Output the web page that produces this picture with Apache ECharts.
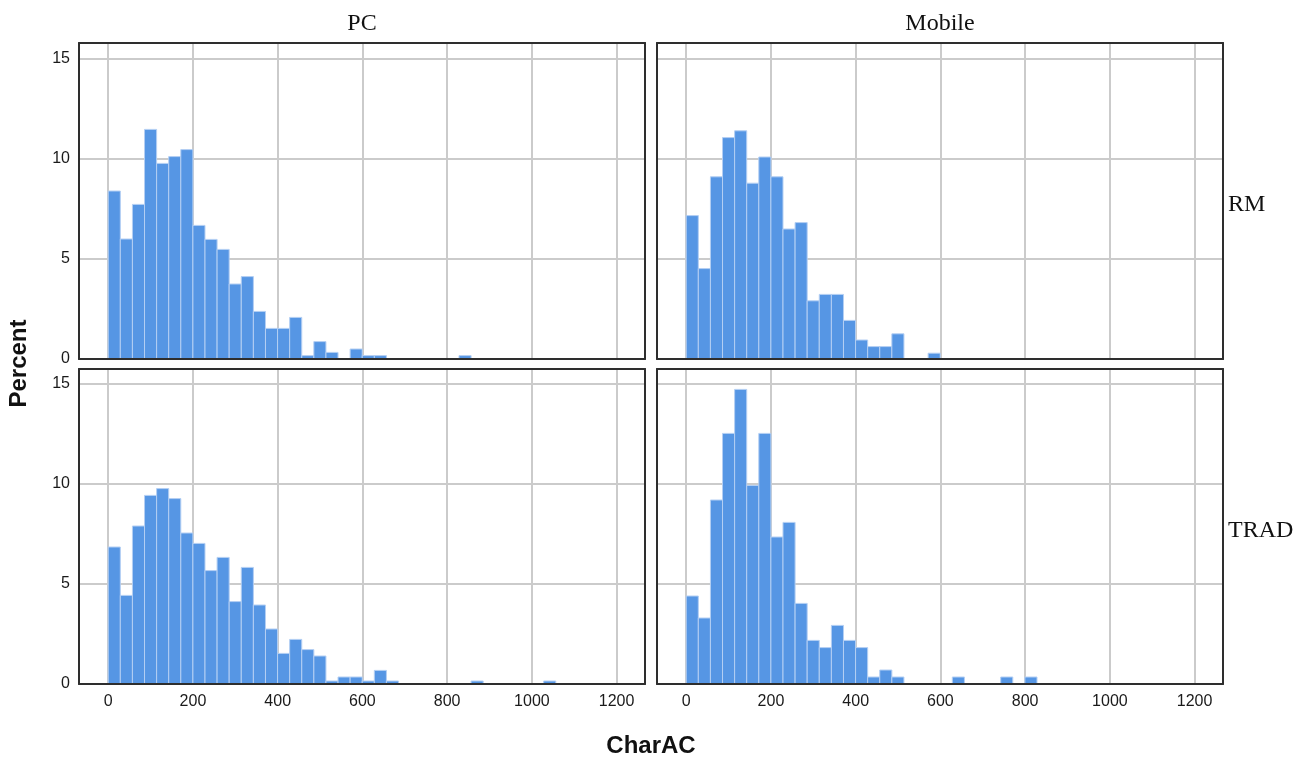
<!DOCTYPE html>
<html>
<head>
<meta charset="utf-8">
<script src="https://cdn.jsdelivr.net/npm/echarts@6/dist/echarts.min.js"></script>
<style>
  html, body { margin: 0; padding: 0; background: #ffffff; }
  #chart { width: 1300px; height: 757px; }
</style>
</head>
<body>
<div id="chart"></div>
<script>
// Histogram bins start at 0 and are BIN_WIDTH characters wide.
const BIN_WIDTH = 28.55;

// Facet labels
const columnLabels = ['PC', 'Mobile'];
const rowLabels = ['RM', 'TRAD'];
const xAxisTitle = 'CharAC';
const yAxisTitle = 'Percent';

// Percent of cases per bin
const pcRM = [8.4, 6.0, 7.73, 11.48, 9.78, 10.12, 10.47, 6.68, 5.98, 5.48,
  3.75, 4.12, 2.38, 1.53, 1.53, 2.08, 0.17, 0.87, 0.33, 0,
  0.5, 0.17, 0.17, 0, 0, 0, 0, 0, 0, 0.17];
const mobileRM = [7.17, 4.52, 9.11, 11.07, 11.41, 8.79, 10.1, 9.11, 6.5, 6.82,
  2.91, 3.23, 3.23, 1.93, 0.95, 0.62, 0.62, 1.26, 0, 0,
  0.29];
const pcTRAD = [6.85, 4.43, 7.9, 9.43, 9.77, 9.27, 7.55, 7.03, 5.67, 6.33,
  4.12, 5.83, 3.95, 2.75, 1.53, 2.23, 1.72, 1.4, 0.15, 0.35,
  0.35, 0.15, 0.68, 0.15, 0, 0, 0, 0, 0, 0,
  0.15, 0, 0, 0, 0, 0, 0.15];
const mobileTRAD = [4.4, 3.3, 9.2, 12.53, 14.73, 9.93, 12.53, 7.35, 8.08, 4.03,
  2.18, 1.82, 2.93, 2.18, 1.82, 0.35, 0.7, 0.35, 0, 0,
  0, 0, 0.35, 0, 0, 0, 0.35, 0, 0.35];

// Axis ranges and tick steps
const xRange = [-69, 1267];
const xTickStep = 200;
const yRanges = [[0, 15.8], [0, 15.75]];
const yTickStep = 5;

const panelValues = [[pcRM, mobileRM], [pcTRAD, mobileTRAD]];

// Panel layout (pixels)
const COL_LEFT = [79, 657];
const PANEL_W = 566;
const ROW_TOP = [43, 369];
const ROW_H = [316, 315];

const BAR_FILL = '#5696e4';
const BAR_EDGE = '#b4cff3';
const GRID_LINE = '#cbcbcb';
const FRAME = '#2e2e2e';
const LABEL_FONT = '"Liberation Sans", Arial, sans-serif';
const FACET_FONT = '"Liberation Serif", "Times New Roman", serif';

const grids = [], xAxes = [], yAxes = [], series = [];

function frameAxis(gridIndex, position, range) {
  return {
    type: 'value', gridIndex, position, z: 10,
    min: range[0], max: range[1],
    axisLine: { show: true, onZero: false, lineStyle: { color: FRAME, width: 2 } },
    axisTick: { show: false }, axisLabel: { show: false }, splitLine: { show: false }
  };
}

function renderBar(params, api) {
  const v = api.value(2);
  if (!v) return null;
  const topLeft = api.coord([api.value(0), v]);
  const bottomRight = api.coord([api.value(1), 0]);
  return {
    type: 'rect',
    shape: {
      x: topLeft[0], y: topLeft[1],
      width: bottomRight[0] - topLeft[0],
      height: bottomRight[1] - topLeft[1]
    },
    style: { fill: BAR_FILL, stroke: BAR_EDGE, lineWidth: 1 }
  };
}

const plainNumber = (v) => String(v);

for (let r = 0; r < 2; r++) {
  for (let c = 0; c < 2; c++) {
    const g = grids.length;
    grids.push({ left: COL_LEFT[c], top: ROW_TOP[r], width: PANEL_W, height: ROW_H[r], containLabel: false });

    const xIndex = xAxes.length;
    xAxes.push({
      type: 'value', gridIndex: g, position: 'bottom',
      min: xRange[0], max: xRange[1],
      splitNumber: 7, minInterval: xTickStep, maxInterval: xTickStep,
      axisLine: { show: false }, axisTick: { show: false },
      axisLabel: {
        show: r === 1, margin: 10, fontSize: 16, fontFamily: LABEL_FONT, color: '#1a1a1a',
        showMinLabel: false, showMaxLabel: false, formatter: plainNumber
      },
      splitLine: { show: true, lineStyle: { color: GRID_LINE, width: 2 } }
    });
    xAxes.push(frameAxis(g, 'top', xRange));
    xAxes.push(frameAxis(g, 'bottom', xRange));

    const yIndex = yAxes.length;
    yAxes.push({
      type: 'value', gridIndex: g, position: 'left',
      min: yRanges[r][0], max: yRanges[r][1], interval: yTickStep,
      axisLine: { show: false }, axisTick: { show: false },
      axisLabel: {
        show: c === 0, margin: 9, fontSize: 16, fontFamily: LABEL_FONT, color: '#1a1a1a',
        showMaxLabel: false, formatter: plainNumber
      },
      splitLine: { show: true, lineStyle: { color: GRID_LINE, width: 2 } }
    });
    yAxes.push(frameAxis(g, 'left', yRanges[r]));
    yAxes.push(frameAxis(g, 'right', yRanges[r]));

    const values = panelValues[r][c];
    series.push({
      type: 'custom',
      name: columnLabels[c] + ' ' + rowLabels[r],
      coordinateSystem: 'cartesian2d',
      xAxisIndex: xIndex, yAxisIndex: yIndex,
      renderItem: renderBar,
      encode: { x: [0, 1], y: 2 },
      clip: true,
      z: 3,
      data: values.map((v, i) => [i * BIN_WIDTH, (i + 1) * BIN_WIDTH, v])
    });
  }
}

function label(text, x, y, font, align, rotation) {
  return {
    type: 'text', x, y, rotation: rotation || 0, silent: true,
    style: {
      text, font, fill: '#111111',
      textAlign: align, align: align,
      textVerticalAlign: 'middle', verticalAlign: 'middle'
    }
  };
}

const graphics = [];
for (let c = 0; c < 2; c++) {
  graphics.push(label(columnLabels[c], COL_LEFT[c] + PANEL_W / 2, 24, '24px ' + FACET_FONT, 'center'));
}
for (let r = 0; r < 2; r++) {
  graphics.push(label(rowLabels[r], COL_LEFT[1] + PANEL_W + 5, ROW_TOP[r] + ROW_H[r] / 2 + 4, '24px ' + FACET_FONT, 'left'));
}
const plotMidX = (COL_LEFT[0] + COL_LEFT[1] + PANEL_W) / 2;
const plotMidY = (ROW_TOP[0] + ROW_TOP[1] + ROW_H[1]) / 2;
graphics.push(label(yAxisTitle, 19, plotMidY, 'bold 24px ' + LABEL_FONT, 'center', Math.PI / 2));
graphics.push(label(xAxisTitle, plotMidX, 746, 'bold 24px ' + LABEL_FONT, 'center'));

const chart = echarts.init(document.getElementById('chart'), null, { renderer: 'canvas' });
chart.setOption({
  animation: false,
  backgroundColor: '#ffffff',
  grid: grids,
  xAxis: xAxes,
  yAxis: yAxes,
  series: series,
  graphic: graphics
});
</script>
</body>
</html>
